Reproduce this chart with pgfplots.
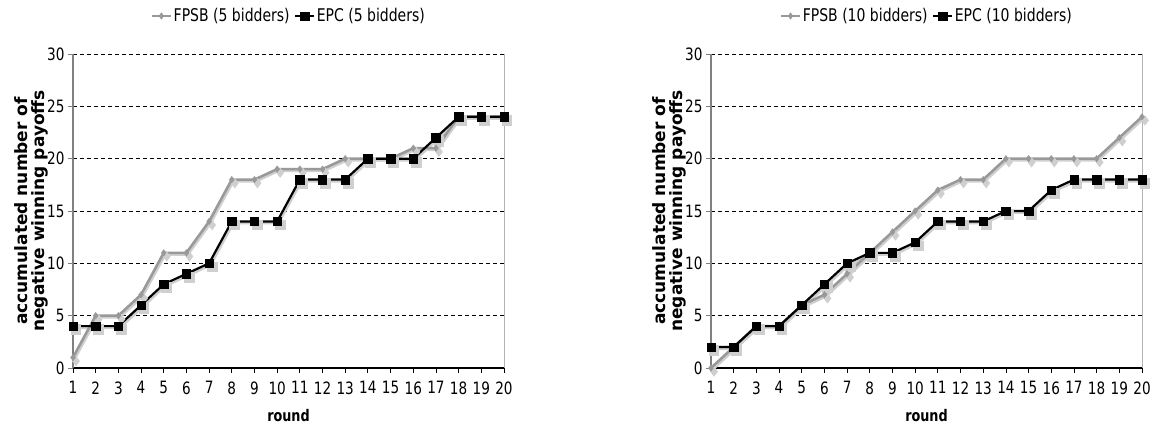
\documentclass[border=0pt]{standalone}
\usepackage{fontspec}
\setmainfont{DejaVu Sans}
\newfontfamily\cond[FakeStretch=0.8]{DejaVu Sans}
\usepackage{pgfplots}
\pgfplotsset{compat=1.18}

\definecolor{fpsb}{HTML}{999999}
\definecolor{shadowgray}{HTML}{CFCFCF}
\definecolor{leftax}{HTML}{808080}
\definecolor{border}{HTML}{B4B4B4}

\pgfplotsset{
  auction/.style={
    scale only axis, width=431pt, height=314pt,
    xmin=1, xmax=20, ymin=0, ymax=30,
    xtick={1,...,20}, ytick={0,5,...,30},
    axis x line*=bottom, axis y line*=left,
    x axis line style={black, line width=1.2pt},
    y axis line style={leftax, line width=1.5pt},
    tick align=outside, major tick length=5pt,
    xtick style={black, line width=0.8pt},
    ytick style={leftax, line width=0.8pt},
    ymajorgrids,
    grid style={black, line width=0.8pt, dash pattern=on 4pt off 3pt},
    tick label style={font=\cond\fontsize{17}{19}\selectfont, text=black},
    xticklabel style={yshift=-5pt},
    /pgf/number format/assume math mode=true,
    clip=false,
    xlabel={round},
    xlabel style={at={(axis description cs:0.5,-0.152)}, anchor=center,
      font=\cond\bfseries\fontsize{16}{19}\selectfont},
    ylabel={accumulated number of\\negative winning payoffs},
    ylabel style={at={(axis description cs:-0.097,0.5)}, anchor=center,
      align=center, font=\bfseries\fontsize{17}{16.5}\selectfont},
    legend columns=2,
    legend style={draw=none, fill=none, at={(axis description cs:0.5,1.121)},
      anchor=center, font=\cond\fontsize{17.5}{19}\selectfont,
      nodes={inner sep=1.5pt},
      /tikz/every even column/.append style={column sep=3pt}},
    legend image code/.code={
      \draw[#1, mark repeat=2, mark phase=2]
        plot coordinates {(0pt,0pt) (9.5pt,0pt) (19pt,0pt)};},
  },
  fpsbline/.style={fpsb, line width=2.6pt, mark=diamond*, mark size=3.2pt,
    mark options={solid, fill=fpsb, draw=fpsb, line width=0.5pt}},
  epcline/.style={black, line width=2.2pt, mark=square*, mark size=4.2pt,
    mark options={solid, fill=black, line width=0.5pt}},
  dropshade/.style={shadowgray, line width=2.4pt, forget plot,
    mark options={fill=shadowgray, draw=shadowgray},
    transform canvas={xshift=1.5pt, yshift=-1.8pt}},
}

\begin{document}
\begin{tikzpicture}
\path[use as bounding box] (0pt,0pt) rectangle (1160pt,439pt);

% 5 bidders
\begin{axis}[auction, at={(73pt,71pt)}, anchor=south west]
  \addplot[dropshade, mark=diamond*, mark size=3.2pt] coordinates {
    (1,1) (2,5) (3,5) (4,7) (5,11) (6,11) (7,14) (8,18) (9,18) (10,19)
    (11,19) (12,19) (13,20) (14,20) (15,20) (16,21) (17,21) (18,24) (19,24) (20,24)};
  \addplot[dropshade, mark=square*, mark size=4.2pt] coordinates {
    (1,4) (2,4) (3,4) (4,6) (5,8) (6,9) (7,10) (8,14) (9,14) (10,14)
    (11,18) (12,18) (13,18) (14,20) (15,20) (16,20) (17,22) (18,24) (19,24) (20,24)};
  \addplot[fpsbline] coordinates {
    (1,1) (2,5) (3,5) (4,7) (5,11) (6,11) (7,14) (8,18) (9,18) (10,19)
    (11,19) (12,19) (13,20) (14,20) (15,20) (16,21) (17,21) (18,24) (19,24) (20,24)};
  \addlegendentry{FPSB (5 bidders)}
  \addplot[epcline] coordinates {
    (1,4) (2,4) (3,4) (4,6) (5,8) (6,9) (7,10) (8,14) (9,14) (10,14)
    (11,18) (12,18) (13,18) (14,20) (15,20) (16,20) (17,22) (18,24) (19,24) (20,24)};
  \addlegendentry{EPC (5 bidders)}
  \draw[border, line width=1pt] (rel axis cs:1,0) -- (rel axis cs:1,1);
\end{axis}

% 10 bidders
\begin{axis}[auction, at={(711pt,71pt)}, anchor=south west]
  \addplot[dropshade, mark=diamond*, mark size=3.2pt] coordinates {
    (1,0) (2,2) (3,4) (4,4) (5,6) (6,7) (7,9) (8,11) (9,13) (10,15)
    (11,17) (12,18) (13,18) (14,20) (15,20) (16,20) (17,20) (18,20) (19,22) (20,24)};
  \addplot[dropshade, mark=square*, mark size=4.2pt] coordinates {
    (1,2) (2,2) (3,4) (4,4) (5,6) (6,8) (7,10) (8,11) (9,11) (10,12)
    (11,14) (12,14) (13,14) (14,15) (15,15) (16,17) (17,18) (18,18) (19,18) (20,18)};
  \addplot[fpsbline] coordinates {
    (1,0) (2,2) (3,4) (4,4) (5,6) (6,7) (7,9) (8,11) (9,13) (10,15)
    (11,17) (12,18) (13,18) (14,20) (15,20) (16,20) (17,20) (18,20) (19,22) (20,24)};
  \addlegendentry{FPSB (10 bidders)}
  \addplot[epcline] coordinates {
    (1,2) (2,2) (3,4) (4,4) (5,6) (6,8) (7,10) (8,11) (9,11) (10,12)
    (11,14) (12,14) (13,14) (14,15) (15,15) (16,17) (17,18) (18,18) (19,18) (20,18)};
  \addlegendentry{EPC (10 bidders)}
  \draw[border, line width=1pt] (rel axis cs:1,0) -- (rel axis cs:1,1);
\end{axis}
\end{tikzpicture}
\end{document}
